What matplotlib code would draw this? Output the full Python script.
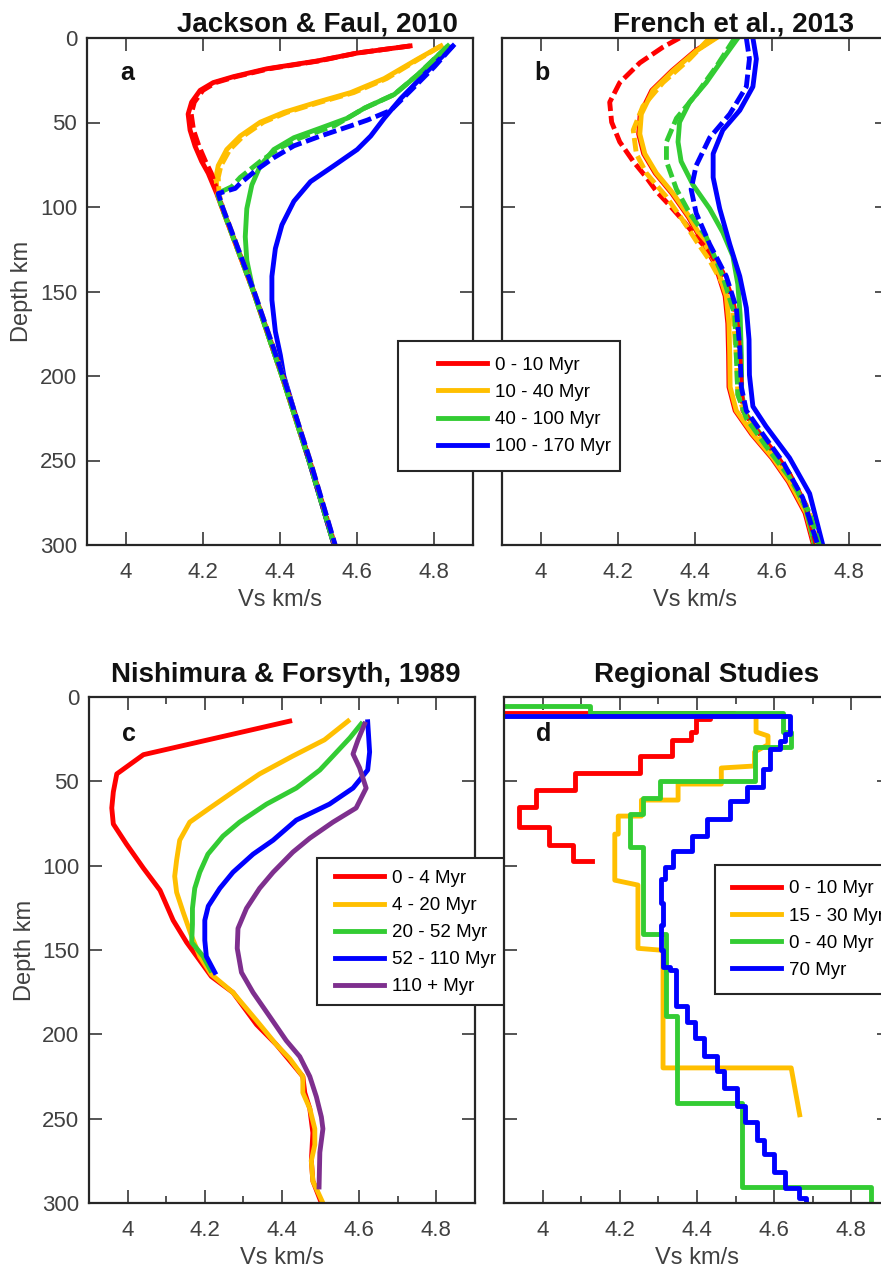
import numpy as np
import matplotlib
matplotlib.use('Agg')
import matplotlib.pyplot as plt
from matplotlib.patches import Rectangle
from matplotlib.lines import Line2D
from matplotlib.ticker import MultipleLocator

plt.rcParams['font.family'] = ['Liberation Sans', 'DejaVu Sans']

# ---------------- data ----------------
# Panel a : Jackson & Faul, 2010  (solid and dashed models)
jf_red_d = [4.7, 8.9, 13.6, 18.2, 22.9, 26.4, 31, 38, 45, 54.5, 64, 73, 80, 92, 100, 150, 200, 250, 300]
jf_red_v = [4.737, 4.6, 4.496, 4.366, 4.279, 4.227, 4.193, 4.171, 4.162, 4.167, 4.18, 4.197, 4.214, 4.236, 4.249, 4.331, 4.405, 4.475, 4.54]
jf_red_dash_v = [4.737, 4.6, 4.5, 4.372, 4.285, 4.233, 4.2, 4.178, 4.17, 4.176, 4.19, 4.207, 4.222, 4.24, 4.25, 4.332, 4.407, 4.477, 4.542]

jf_org_d = [4.7, 12.4, 24, 32.3, 38, 44, 49.8, 58, 66, 75.5, 82.5, 92, 100, 150, 200, 250, 300]
jf_org_v = [4.817, 4.757, 4.67, 4.583, 4.496, 4.41, 4.349, 4.297, 4.262, 4.24, 4.234, 4.238, 4.249, 4.331, 4.405, 4.475, 4.54]
jf_org_dash_v = [4.817, 4.76, 4.676, 4.591, 4.504, 4.418, 4.357, 4.305, 4.27, 4.247, 4.24, 4.242, 4.251, 4.333, 4.408, 4.478, 4.542]

jf_grn_d = [4.7, 21.7, 33.4, 41.6, 47.5, 53.3, 59, 66, 75.5, 87, 101, 117.6, 131.6, 145.7, 150, 200, 250, 300]
jf_grn_v = [4.835, 4.757, 4.696, 4.618, 4.574, 4.505, 4.436, 4.384, 4.349, 4.327, 4.314, 4.31, 4.314, 4.327, 4.331, 4.405, 4.475, 4.54]
jf_grn_dash_d = [4.7, 21.7, 33.4, 41.6, 47.5, 52, 59, 65, 73, 82.5, 88, 92, 100, 150, 200, 250, 300]
jf_grn_dash_v = [4.835, 4.757, 4.696, 4.618, 4.574, 4.54, 4.453, 4.4, 4.349, 4.297, 4.275, 4.238, 4.249, 4.331, 4.405, 4.475, 4.54]

jf_blu_d = [4.7, 19.4, 35.8, 47.5, 58, 66, 75.5, 85, 96.6, 110.6, 124.6, 141, 155, 173.7, 187.7, 200, 250, 300]
jf_blu_v = [4.848, 4.783, 4.713, 4.67, 4.635, 4.6, 4.54, 4.479, 4.436, 4.405, 4.388, 4.379, 4.379, 4.388, 4.401, 4.41, 4.475, 4.54]
jf_blu_dash_d = [4.7, 17, 31, 42.8, 48.6, 52, 58, 63.8, 70.8, 77.9, 86, 89, 92, 100, 150, 200, 250, 300]
jf_blu_dash_v = [4.848, 4.8, 4.739, 4.687, 4.626, 4.583, 4.505, 4.436, 4.384, 4.34, 4.297, 4.284, 4.24, 4.251, 4.333, 4.408, 4.478, 4.543]

jf_labels = ['0 - 10 Myr', '10 - 40 Myr', '40 - 100 Myr', '100 - 170 Myr']

# Panel b : French et al., 2013
fr_red_dash_d = [0, 5.4, 14.7, 26.4, 38, 49.8, 61.5, 73, 82.5, 90.7, 99, 108, 117.6, 127, 138.6, 155, 171.4, 187.7, 206.5, 220.5, 232, 244, 258, 276.6, 300]
fr_red_dash_v = [4.36, 4.317, 4.257, 4.205, 4.179, 4.184, 4.205, 4.24, 4.274, 4.3, 4.334, 4.369, 4.403, 4.438, 4.472, 4.498, 4.511, 4.516, 4.52, 4.524, 4.559, 4.602, 4.645, 4.688, 4.714]

fr_org_d = [0, 7.7, 19.4, 31, 45, 56.8, 68.5, 80, 91.9, 106, 120, 134, 152.7, 169, 187.7, 206.5, 220.5, 234.5, 248.5, 262.6, 281, 300]
fr_org_v = [4.455, 4.403, 4.343, 4.291, 4.261, 4.257, 4.27, 4.3, 4.343, 4.386, 4.421, 4.455, 4.481, 4.488, 4.49, 4.491, 4.507, 4.55, 4.602, 4.645, 4.688, 4.71]
fr_red_v = [4.452, 4.4, 4.34, 4.288, 4.258, 4.254, 4.267, 4.297, 4.34, 4.383, 4.418, 4.452, 4.478, 4.485, 4.487, 4.488, 4.504, 4.547, 4.599, 4.642, 4.685, 4.707]
fr_org_dash_d = [0, 12.4, 26.4, 40.4, 54.5, 68.5, 80, 94, 108, 120, 131.6, 145.7, 162, 187.7, 211, 225, 241.5, 260, 281, 300]
fr_org_dash_v = [4.438, 4.386, 4.317, 4.265, 4.24, 4.248, 4.274, 4.326, 4.369, 4.403, 4.438, 4.472, 4.498, 4.507, 4.511, 4.533, 4.584, 4.645, 4.697, 4.718]

fr_grn_d = [0, 12.4, 26.4, 38, 49.8, 61.5, 73, 87, 101, 115, 129, 145.7, 164, 187.7, 211, 222.8, 239, 258, 279, 300]
fr_grn_v = [4.511, 4.472, 4.429, 4.386, 4.36, 4.356, 4.364, 4.395, 4.438, 4.472, 4.498, 4.511, 4.517, 4.52, 4.521, 4.533, 4.584, 4.645, 4.688, 4.71]
fr_grn_dash_d = [0, 17, 33.4, 47.5, 61.5, 73, 89.5, 103.6, 117.6, 141, 164, 187.7, 211, 225, 241.5, 260, 281, 300]
fr_grn_dash_v = [4.503, 4.455, 4.403, 4.352, 4.326, 4.326, 4.352, 4.386, 4.429, 4.472, 4.503, 4.507, 4.511, 4.533, 4.584, 4.645, 4.697, 4.722]

fr_blu_d = [0, 12.4, 28.8, 42.8, 54.5, 68.5, 82.5, 101, 122, 141, 159.7, 178.4, 199.4, 218, 229.8, 248.5, 269.6, 300]
fr_blu_v = [4.55, 4.559, 4.55, 4.516, 4.472, 4.447, 4.447, 4.464, 4.49, 4.516, 4.533, 4.54, 4.541, 4.55, 4.584, 4.645, 4.697, 4.731]
fr_blu_dash_d = [0, 12.4, 28.8, 45, 59, 75.5, 89.5, 103.6, 122, 141, 159.7, 183, 206.5, 220.5, 234.5, 251, 272, 300]
fr_blu_dash_v = [4.533, 4.541, 4.533, 4.49, 4.438, 4.403, 4.39, 4.403, 4.438, 4.481, 4.507, 4.516, 4.52, 4.533, 4.576, 4.628, 4.679, 4.718]

# Panel c : Nishimura & Forsyth, 1989
nf_red_d = [14.3, 34.2, 45.6, 56.3, 65.8, 75.3, 87.2, 101.5, 114.6, 132.4, 145.5, 156.2, 165.7, 175.2, 194.2, 206, 215.6, 225, 234.6, 244, 258.4, 275, 287, 300]
nf_red_v = [4.42, 4.041, 3.972, 3.963, 3.959, 3.963, 3.997, 4.041, 4.084, 4.118, 4.153, 4.187, 4.217, 4.273, 4.334, 4.385, 4.42, 4.454, 4.459, 4.472, 4.48, 4.476, 4.48, 4.502]
nf_org_d = [14.3, 25.4, 35, 45.6, 56.3, 65.8, 74.2, 84.9, 96.7, 106.3, 115.8, 127.6, 141.9, 153.8, 164.5, 175.2, 191.8, 206, 214.4, 225, 234.6, 244, 256, 265.5, 275, 287, 300]
nf_org_v = [4.571, 4.51, 4.428, 4.342, 4.273, 4.213, 4.161, 4.135, 4.127, 4.122, 4.127, 4.144, 4.166, 4.187, 4.217, 4.273, 4.334, 4.385, 4.42, 4.454, 4.454, 4.472, 4.485, 4.485, 4.476, 4.48, 4.506]
nf_grn_d = [16, 24.2, 35, 43.3, 54, 63.5, 74.2, 82.5, 93.2, 103.9, 113.4, 125.3, 134.8, 145.5, 153.8, 162]
nf_grn_v = [4.605, 4.576, 4.532, 4.498, 4.437, 4.36, 4.29, 4.247, 4.208, 4.187, 4.174, 4.168, 4.168, 4.166, 4.196, 4.215]
nf_blu_d = [14.7, 32.6, 43.3, 54, 63.5, 73, 84.9, 93.2, 103.9, 113.4, 124, 132.4, 144.3, 153.8, 163.3]
nf_blu_v = [4.622, 4.627, 4.622, 4.584, 4.523, 4.437, 4.377, 4.325, 4.273, 4.239, 4.209, 4.2, 4.2, 4.204, 4.226]
nf_pur_d = [16, 25.4, 33.8, 42, 54, 65.8, 74.2, 83.7, 92, 103.9, 113.4, 125.3, 137.2, 149, 163.3, 175.2, 189.4, 203.7, 213.2, 225, 237, 249, 256, 270, 290.5]
nf_pur_v = [4.614, 4.597, 4.584, 4.601, 4.618, 4.592, 4.532, 4.472, 4.428, 4.377, 4.342, 4.308, 4.286, 4.284, 4.295, 4.325, 4.368, 4.411, 4.446, 4.472, 4.489, 4.502, 4.506, 4.498, 4.496]
nf_labels = ['0 - 4 Myr', '4 - 20 Myr', '20 - 52 Myr', '52 - 110 Myr', '110 + Myr']

# Panel d : Regional studies (layered models: layer-top depth, Vs)
rg_red_top = [9.5, 11.5, 12.8, 20.7, 25.4, 35, 45, 55.2, 65.4, 77.3, 87.7, 97.5]
rg_red_vs = [4.497, 4.433, 4.398, 4.385, 4.336, 4.252, 4.084, 3.984, 3.94, 4.017, 4.079, 4.127]
rg_red_end = 97.5
rg_org_d = [11.5, 11.5, 20.7, 23.1, 28.3, 32.6, 40.9, 42.1, 51.6, 51.6, 61.1, 61.1, 70.6, 70.6, 81.3, 81.3, 108.6, 111.5, 149, 150.2, 219.9, 219.9, 247.7]
rg_org_v = [3.5, 4.553, 4.553, 4.584, 4.584, 4.549, 4.549, 4.463, 4.463, 4.351, 4.351, 4.256, 4.256, 4.196, 4.196, 4.187, 4.187, 4.247, 4.247, 4.312, 4.312, 4.644, 4.666]
rg_grn_top = [5.2, 9.5, 20.7, 29.7, 49.7, 60, 69.4, 89, 140.7, 189.4, 240.5, 290.5]
rg_grn_vs = [4.122, 4.622, 4.644, 4.549, 4.303, 4.26, 4.226, 4.259, 4.319, 4.347, 4.517, 4.851]
rg_grn_end = 300
rg_blu_top = [11.2, 22, 26, 31, 42.5, 53.5, 61.7, 72.4, 82.2, 91.4, 101, 108, 122, 135, 150, 160, 162, 183, 192.5, 202, 212.6, 222, 231.6, 242.3, 252, 262.5, 271, 281.5, 291, 297]
rg_blu_vs = [4.64, 4.627, 4.614, 4.59, 4.57, 4.53, 4.485, 4.425, 4.388, 4.338, 4.316, 4.308, 4.313, 4.308, 4.312, 4.33, 4.345, 4.374, 4.395, 4.418, 4.452, 4.47, 4.504, 4.525, 4.556, 4.573, 4.599, 4.629, 4.663, 4.683]
rg_blu_end = 300
rg_labels = ['0 - 10 Myr', '15 - 30 Myr', '0 - 40 Myr', '70 Myr']

# ---------------- style ----------------
C_RED, C_ORG, C_GRN, C_BLU, C_PUR = '#FF0000', '#FFBF00', '#33CC33', '#0000FF', '#7E2F8E'
LW = 3.5
DASH = (2.8, 1.0)
TXT = '#404040'
AXC = '#262626'
W, H = 881, 1268

fig = plt.figure(figsize=(W / 100, H / 100), dpi=100)


def ax_at(l, t, r, b):
    return fig.add_axes([l / W, 1 - b / H, (r - l) / W, (b - t) / H])


def staircase(tops, vs, end, v0=3.5):
    xs, ys = [v0], [tops[0]]
    for i, v in enumerate(vs):
        nxt = tops[i + 1] if i + 1 < len(tops) else end
        xs += [v, v]
        ys += [tops[i], nxt]
    return xs, ys


def setup(ax, minor, ylab, ylab_x):
    ax.set_xlim(3.9, 4.9)
    ax.set_ylim(300, 0)
    ax.set_xticks([4, 4.2, 4.4, 4.6, 4.8])
    ax.set_xticklabels(['4', '4.2', '4.4', '4.6', '4.8'])
    ax.set_yticks(range(0, 301, 50))
    if minor:
        ax.xaxis.set_minor_locator(MultipleLocator(0.1))
    ax.tick_params(which='both', direction='in', top=True, right=True, color=AXC)
    ax.tick_params(which='major', length=9.4, width=1.1)
    ax.tick_params(which='minor', length=5, width=1.1)
    ax.tick_params(axis='x', which='major', pad=12, labelsize=16, labelcolor=TXT)
    ax.tick_params(axis='y', which='major', pad=7, labelsize=16, labelcolor=TXT, labelleft=ylab)
    for s in ax.spines.values():
        s.set_linewidth(1.6)
        s.set_color(AXC)
    ax.set_xlabel('Vs km/s', fontsize=17, color=TXT)
    ax.xaxis.set_label_coords(0.5, -0.086)
    if ylab:
        ax.set_ylabel('Depth km', fontsize=17, color=TXT)
        ax.yaxis.set_label_coords(ylab_x, 0.5)


def title(ax, s, x, y):
    ax.text(x, y, s, transform=ax.transAxes, ha='center', va='baseline',
            fontsize=20, fontweight='bold', color='#111111')


def letter(ax, s, d):
    ax.text(4.003, d, s, ha='center', va='center', fontsize=18, fontweight='bold', color='#111111')


def legend_box(parent_add, l, t, r, b):
    rect = Rectangle((l / W, 1 - b / H), (r - l) / W, (b - t) / H, transform=fig.transFigure,
                     facecolor='white', edgecolor=AXC, linewidth=1.5, zorder=4.9, clip_on=False)
    parent_add(rect)


LEG_KW = dict(frameon=False, borderpad=0, borderaxespad=0, handlelength=2.6,
              handletextpad=0.43, labelspacing=0.53, fontsize=13.5)

# ---------------- panel a ----------------
ax_a = ax_at(87, 38, 473, 545)
ax_a.plot(jf_red_v, jf_red_d, color=C_RED, lw=LW)
ax_a.plot(jf_org_v, jf_org_d, color=C_ORG, lw=LW)
ax_a.plot(jf_grn_v, jf_grn_d, color=C_GRN, lw=LW)
ax_a.plot(jf_blu_v, jf_blu_d, color=C_BLU, lw=LW)
ax_a.plot(jf_red_dash_v, jf_red_d, color=C_RED, lw=LW, dashes=DASH)
ax_a.plot(jf_org_dash_v, jf_org_d, color=C_ORG, lw=LW, dashes=DASH)
ax_a.plot(jf_grn_dash_v, jf_grn_dash_d, color=C_GRN, lw=LW, dashes=DASH)
ax_a.plot(jf_blu_dash_v, jf_blu_dash_d, color=C_BLU, lw=LW, dashes=DASH)
setup(ax_a, False, True, -0.140)
title(ax_a, 'Jackson & Faul, 2010', 0.598, 1.0138)
letter(ax_a, 'a', 21)

# ---------------- panel b ----------------
ax_b = ax_at(502, 38, 888, 545)
ax_b.plot(fr_red_v, fr_org_d, color=C_RED, lw=LW)
ax_b.plot(fr_org_v, fr_org_d, color=C_ORG, lw=LW)
ax_b.plot(fr_grn_v, fr_grn_d, color=C_GRN, lw=LW)
ax_b.plot(fr_blu_v, fr_blu_d, color=C_BLU, lw=LW)
ax_b.plot(fr_red_dash_v, fr_red_dash_d, color=C_RED, lw=LW, dashes=DASH)
ax_b.plot(fr_org_dash_v, fr_org_dash_d, color=C_ORG, lw=LW, dashes=DASH)
ax_b.plot(fr_grn_dash_v, fr_grn_dash_d, color=C_GRN, lw=LW, dashes=DASH)
ax_b.plot(fr_blu_dash_v, fr_blu_dash_d, color=C_BLU, lw=LW, dashes=DASH)
setup(ax_b, False, False, 0)
title(ax_b, 'French et al., 2013', 0.600, 1.0138)
letter(ax_b, 'b', 21)

# ---------------- panel c ----------------
ax_c = ax_at(89, 697, 475, 1203)
lc = []
lc += ax_c.plot(nf_red_v, nf_red_d, color=C_RED, lw=LW)
lc += ax_c.plot(nf_org_v, nf_org_d, color=C_ORG, lw=LW)
lc += ax_c.plot(nf_grn_v, nf_grn_d, color=C_GRN, lw=LW)
lc += ax_c.plot(nf_blu_v, nf_blu_d, color=C_BLU, lw=LW)
lc += ax_c.plot(nf_pur_v, nf_pur_d, color=C_PUR, lw=LW)
setup(ax_c, True, True, -0.138)
title(ax_c, 'Nishimura & Forsyth, 1989', 0.510, 1.0296)
letter(ax_c, 'c', 22)
legend_box(ax_c.add_artist, 317, 858, 540, 1005)
ax_c.legend(lc, nf_labels, loc='center left', bbox_to_anchor=(335 / W, 1 - 932.6 / H),
            bbox_transform=fig.transFigure, **LEG_KW).set_zorder(5)

# ---------------- panel d ----------------
ax_d = ax_at(504, 697, 890, 1203)
ld = []
x, y = staircase(rg_red_top, rg_red_vs, rg_red_end)
ld += ax_d.plot(x, y, color=C_RED, lw=LW)
ld += ax_d.plot(rg_org_v, rg_org_d, color=C_ORG, lw=LW)
x, y = staircase(rg_grn_top, rg_grn_vs, rg_grn_end)
ld += ax_d.plot(x, y, color=C_GRN, lw=LW)
x, y = staircase(rg_blu_top, rg_blu_vs, rg_blu_end)
ld += ax_d.plot(x, y, color=C_BLU, lw=LW)
setup(ax_d, True, False, 0)
title(ax_d, 'Regional Studies', 0.526, 1.0296)
letter(ax_d, 'd', 22)

# ---------------- figure-level legends (drawn on top) ----------------
la = [Line2D([], [], color=c, lw=LW) for c in (C_RED, C_ORG, C_GRN, C_BLU)]
legend_box(fig.add_artist, 398, 341, 620, 471)
fig.legend(la, jf_labels, loc='center left', bbox_to_anchor=(438 / W, 1 - 406 / H), **LEG_KW)
legend_box(fig.add_artist, 715, 865, 920, 994)
fig.legend(ld, rg_labels, loc='center left', bbox_to_anchor=(732 / W, 1 - 929.5 / H), **LEG_KW)

fig.savefig('out.png', dpi=100)
